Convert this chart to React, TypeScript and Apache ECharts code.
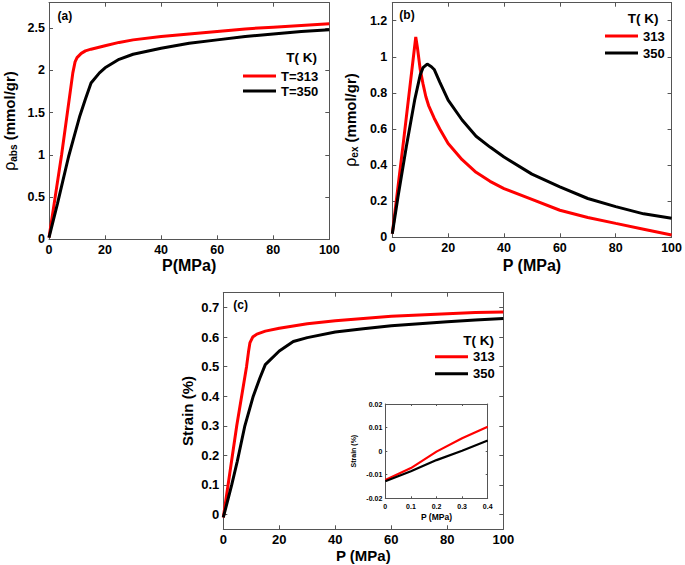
import React, { useEffect, useRef } from "react";
import * as echarts from "echarts";

// ---------- data ----------
// (a) absolute adsorption
const pAbs313 = [0, 4.5, 8.5, 9.3, 10, 11.5, 13, 15, 20, 25, 30, 40, 50, 60, 70, 80, 90, 100];
const rhoAbs313 = [0.02, 1.0, 1.97, 2.1, 2.15, 2.2, 2.23, 2.25, 2.29, 2.33, 2.36, 2.4, 2.43, 2.46, 2.49, 2.51, 2.53, 2.55];
const pAbs350 = [0, 3, 5, 7, 9, 11, 13, 15, 18, 20, 25, 30, 40, 50, 60, 70, 80, 90, 100];
const rhoAbs350 = [0.02, 0.42, 0.7, 0.98, 1.22, 1.46, 1.66, 1.85, 1.97, 2.03, 2.13, 2.19, 2.26, 2.32, 2.36, 2.4, 2.43, 2.46, 2.48];

// (b) excess adsorption
const pEx313 = [0, 4, 8.4, 9, 10, 11, 12, 13, 15, 17, 20, 25, 30, 35, 40, 50, 60, 70, 80, 90, 100];
const rhoEx313 = [0.02, 0.53, 1.11, 1.05, 0.93, 0.85, 0.78, 0.73, 0.66, 0.6, 0.52, 0.43, 0.36, 0.31, 0.27, 0.21, 0.15, 0.11, 0.077, 0.045, 0.013];
const pEx350 = [0, 2, 5, 8, 10, 11, 12.5, 14, 15, 17, 20, 25, 30, 35, 40, 50, 60, 70, 80, 90, 100];
const rhoEx350 = [0.02, 0.22, 0.5, 0.76, 0.9, 0.94, 0.96, 0.945, 0.93, 0.86, 0.76, 0.65, 0.56, 0.5, 0.445, 0.35, 0.28, 0.215, 0.17, 0.13, 0.105];

// (c) strain
const pStrain313 = [0, 4.8, 8.3, 9, 9.5, 10.5, 12, 15, 20, 30, 40, 50, 60, 70, 80, 90, 100];
const strain313 = [-0.01, 0.3, 0.5, 0.55, 0.58, 0.6, 0.61, 0.62, 0.63, 0.645, 0.655, 0.663, 0.67, 0.675, 0.679, 0.683, 0.685];
const pStrain350 = [0, 3, 5, 7.7, 10.7, 13, 15, 20, 25, 30, 40, 50, 60, 70, 80, 90, 100];
const strain350 = [-0.01, 0.1, 0.18, 0.3, 0.4, 0.46, 0.507, 0.553, 0.585, 0.598, 0.617, 0.628, 0.638, 0.645, 0.652, 0.658, 0.663];

// inset (low pressure strain)
const pInset = [0, 0.1, 0.2, 0.3, 0.4];
const strainInset313 = [-0.0122, -0.0072, -0.0002, 0.0055, 0.0103];
const strainInset350 = [-0.0128, -0.0085, -0.0038, 0.0002, 0.0045];

// tick labels
const ticksP = [0, 20, 40, 60, 80, 100];
const ticksAbs = [0, 0.5, 1, 1.5, 2, 2.5];
const ticksEx = [0, 0.2, 0.4, 0.6, 0.8, 1, 1.2];
const ticksStrain = [0, 0.1, 0.2, 0.3, 0.4, 0.5, 0.6, 0.7];
const ticksInsetP = [0, 0.1, 0.2, 0.3, 0.4];
const ticksInsetStrain = [-0.02, -0.01, 0, 0.01, 0.02];

// ---------- styles ----------
const FONT = "Liberation Sans, Arial, sans-serif";
const RED = "#ff0000";
const BLACK = "#000000";
const AXIS_COLOR = "#555555";

function pairs(x: number[], y: number[]) {
  return x.map((v, i) => [v, y[i]]);
}

function axisPair(
  kind: "x" | "y",
  gridIndex: number,
  min: number,
  max: number,
  ticks: number[],
  o: {
    fontSize: number;
    labelMargin: number;
    name: string;
    nameGap: number;
    nameSize: number;
    tickLen: number;
    rich?: any;
  }
) {
  const line = { show: true, onZero: false, lineStyle: { color: AXIS_COLOR, width: 1 } };
  const tick = { show: true, inside: true, length: o.tickLen, customValues: ticks, lineStyle: { color: AXIS_COLOR, width: 1 } };
  const main: any = {
    type: "value",
    gridIndex,
    position: kind === "x" ? "bottom" : "left",
    min,
    max,
    name: o.name,
    nameLocation: "middle",
    nameGap: o.nameGap,
    nameRotate: kind === "y" ? 90 : 0,
    nameTextStyle: {
      fontFamily: FONT,
      fontWeight: "bold",
      fontSize: o.nameSize,
      color: "#000",
      rich: o.rich,
    },
    axisLine: line,
    axisTick: tick,
    axisLabel: {
      show: true,
      customValues: ticks,
      margin: o.labelMargin,
      fontFamily: FONT,
      fontWeight: "bold",
      fontSize: o.fontSize,
      color: "#000",
    },
    splitLine: { show: false },
  };
  const mirror: any = {
    type: "value",
    gridIndex,
    position: kind === "x" ? "top" : "right",
    min,
    max,
    axisLine: line,
    axisTick: tick,
    axisLabel: { show: false },
    splitLine: { show: false },
  };
  return [main, mirror];
}

function lineSeries(name: string, color: string, xi: number, data: number[][], width: number) {
  return {
    type: "line",
    name,
    xAxisIndex: xi,
    yAxisIndex: xi,
    data,
    color,
    showSymbol: false,
    symbol: "none",
    smooth: false,
    lineStyle: { color, width },
    z: 3,
  };
}

function legend(data: string[], left: number, top: number, lh: number) {
  return {
    data,
    orient: "vertical",
    left,
    top,
    padding: 0,
    itemGap: 0,
    icon: "rect",
    itemWidth: 33,
    itemHeight: 3,
    selectedMode: false,
    textStyle: { fontFamily: FONT, fontWeight: "bold", fontSize: 13, color: "#000", lineHeight: lh },
  };
}

function label(text: string, x: number, y: number, size: number, align = "left") {
  return {
    type: "text",
    x,
    y,
    style: {
      text,
      fontFamily: FONT,
      fontWeight: "bold",
      fontSize: size,
      fill: "#000",
      textAlign: align,
      textVerticalAlign: "middle",
    },
  };
}

const rhoRich = (sub: string) => ({
  g: { fontFamily: FONT, fontSize: 16, fontWeight: "normal", color: "#000" },
  s: { fontFamily: FONT, fontSize: 10, fontWeight: "bold", color: "#000", verticalAlign: "bottom", padding: [8, 0, 0, 0] },
  b: { fontFamily: FONT, fontSize: 15, fontWeight: "bold", color: "#000" },
});

export default function App() {
  const ref = useRef<HTMLDivElement>(null);

  useEffect(() => {
    if (!ref.current) return;
    const chart = echarts.init(ref.current, null, { renderer: "svg" });

    const xAxes = [
      ...axisPair("x", 0, 0, 100, ticksP, { fontSize: 12.5, labelMargin: 4, name: "P(MPa)", nameGap: 18, nameSize: 16, tickLen: 4 }),
      ...axisPair("x", 1, 0, 100, ticksP, { fontSize: 12.5, labelMargin: 4, name: "P (MPa)", nameGap: 20, nameSize: 16, tickLen: 4 }),
      ...axisPair("x", 2, 0, 100, ticksP, { fontSize: 13, labelMargin: 4, name: "P (MPa)", nameGap: 19, nameSize: 15, tickLen: 4 }),
      ...axisPair("x", 3, 0, 0.4, ticksInsetP, { fontSize: 7, labelMargin: 5, name: "P (MPa)", nameGap: 14, nameSize: 8.5, tickLen: 2 }),
    ];
    const yAxes = [
      ...axisPair("y", 0, 0, 2.8, ticksAbs, {
        fontSize: 12.5, labelMargin: 4, name: "{g|ρ}{s|abs}{b| (mmol/gr)}", nameGap: 31, nameSize: 15, tickLen: 4, rich: rhoRich("abs"),
      }),
      ...axisPair("y", 1, 0, 1.3, ticksEx, {
        fontSize: 12.5, labelMargin: 5, name: "{g|ρ}{s|ex}{b| (mmol/gr)}", nameGap: 33, nameSize: 15, tickLen: 4, rich: rhoRich("ex"),
      }),
      ...axisPair("y", 2, -0.05, 0.75, ticksStrain, { fontSize: 13, labelMargin: 4, name: "Strain (%)", nameGap: 28, nameSize: 15, tickLen: 4 }),
      ...axisPair("y", 3, -0.02, 0.02, ticksInsetStrain, { fontSize: 7, labelMargin: 3, name: "Strain (%)", nameGap: 28, nameSize: 7, tickLen: 2 }),
    ];

    chart.setOption({
      animation: false,
      backgroundColor: "#ffffff",
      grid: [
        { left: 48.3, top: 2.7, width: 281, height: 236.6, show: false },
        { left: 392.3, top: 2.7, width: 281, height: 234.6, show: false },
        { left: 223.3, top: 292.7, width: 280, height: 236.6, show: false },
        { left: 385.3, top: 404, width: 102.4, height: 94.3, show: false },
      ],
      xAxis: xAxes,
      yAxis: yAxes,
      legend: [
        legend(["T=313", "T=350"], 243, 68.5, 15),
        legend(["313", "350"], 605, 27.5, 17),
        { ...legend(["313", "350"], 435, 348.3, 17) },
      ],
      series: [
        lineSeries("T=313", RED, 0, pairs(pAbs313, rhoAbs313), 3),
        lineSeries("T=350", BLACK, 0, pairs(pAbs350, rhoAbs350), 3),
        lineSeries("313", RED, 2, pairs(pEx313, rhoEx313), 3),
        lineSeries("350", BLACK, 2, pairs(pEx350, rhoEx350), 3),
        lineSeries("313", RED, 4, pairs(pStrain313, strain313), 3),
        lineSeries("350", BLACK, 4, pairs(pStrain350, strain350), 3),
        lineSeries("inset 313", RED, 6, pairs(pInset, strainInset313), 2.2),
        lineSeries("inset 350", BLACK, 6, pairs(pInset, strainInset350), 2.2),
      ],
      graphic: [
        label("(a)", 57.5, 16, 12),
        label("(b)", 399.3, 15, 12),
        label("(c)", 233.3, 305, 12),
        label("T( K)", 317, 57, 13.5, "right"),
        label("T( K)", 658.5, 18, 13.5, "right"),
        label("T( K)", 494, 340, 13.5, "right"),
      ],
    });

    return () => chart.dispose();
  }, []);

  return (
    <div
      ref={ref}
      style={{ position: "fixed", left: 0, top: 0, width: 685, height: 565, background: "#fff" }}
    />
  );
}
